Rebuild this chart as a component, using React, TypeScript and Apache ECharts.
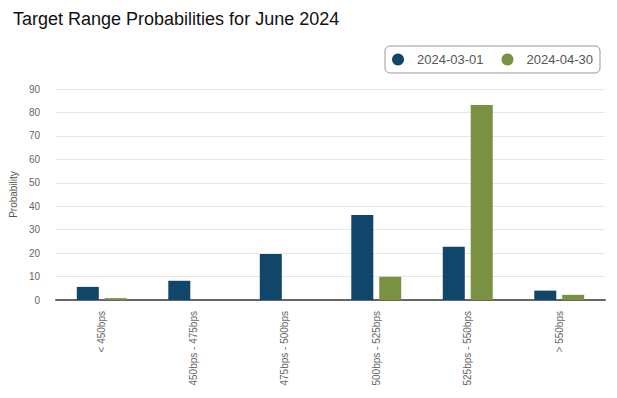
import React, { useEffect, useRef } from "react";
import * as echarts from "echarts";

const categories = ["< 450bps", "450bps - 475bps", "475bps - 500bps", "500bps - 525bps", "525bps - 550bps", "> 550bps"];
const seriesMar = [5.6, 8.2, 19.6, 36.3, 22.7, 4.0];
const seriesApr = [0.8, 0, 0, 9.9, 83.2, 2.2];
const yTicks = { min: 0, max: 90, interval: 10 };

export default function App() {
  const ref = useRef<HTMLDivElement>(null);
  useEffect(() => {
    document.body.style.margin = "0";
    const chart = echarts.init(ref.current!, null, { renderer: "svg" });
    chart.setOption({
      animation: false,
      backgroundColor: "#ffffff",
      textStyle: { fontFamily: "Liberation Sans, Arial, sans-serif" },
      title: {
        text: "Target Range Probabilities for June 2024",
        left: 8,
        top: 5,
        textStyle: { fontSize: 18, fontWeight: "normal", color: "#111111", fontFamily: "Liberation Sans, Arial, sans-serif" },
      },
      legend: {
        right: 17,
        top: 46,
        icon: "circle",
        itemWidth: 12,
        itemHeight: 12,
        itemGap: 18,
        padding: [7, 7, 7, 7],
        borderColor: "#999999",
        borderWidth: 1,
        borderRadius: 5,
        textStyle: { fontSize: 13, color: "#555555", padding: [0, 0, 0, 8] },
      },
      grid: { left: 54, right: 12, top: 89, bottom: 98 },
      xAxis: {
        type: "category",
        data: categories,
        axisLine: { lineStyle: { color: "#666666", width: 2 } },
        axisTick: { show: false },
        axisLabel: { rotate: 90, fontSize: 10, color: "#666666", margin: 11, interval: 0 },
      },
      yAxis: {
        type: "value",
        min: yTicks.min,
        max: yTicks.max,
        interval: yTicks.interval,
        name: "Probability",
        nameLocation: "middle",
        nameGap: 38,
        nameTextStyle: { fontSize: 10, color: "#555555" },
        axisLine: { show: false },
        axisTick: { show: false },
        axisLabel: { fontSize: 10, color: "#666666", margin: 16 },
        splitLine: { lineStyle: { color: "#e6e6e6", width: 1 } },
      },
      series: [
        { name: "2024-03-01", type: "bar", data: seriesMar, barWidth: 22, barGap: "27%", itemStyle: { color: "#10466a" } },
        { name: "2024-04-30", type: "bar", data: seriesApr, barWidth: 22, barGap: "27%", itemStyle: { color: "#7a9141" } },
      ],
    });
    return () => chart.dispose();
  }, []);
  return <div ref={ref} style={{ width: 617, height: 398 }} />;
}
